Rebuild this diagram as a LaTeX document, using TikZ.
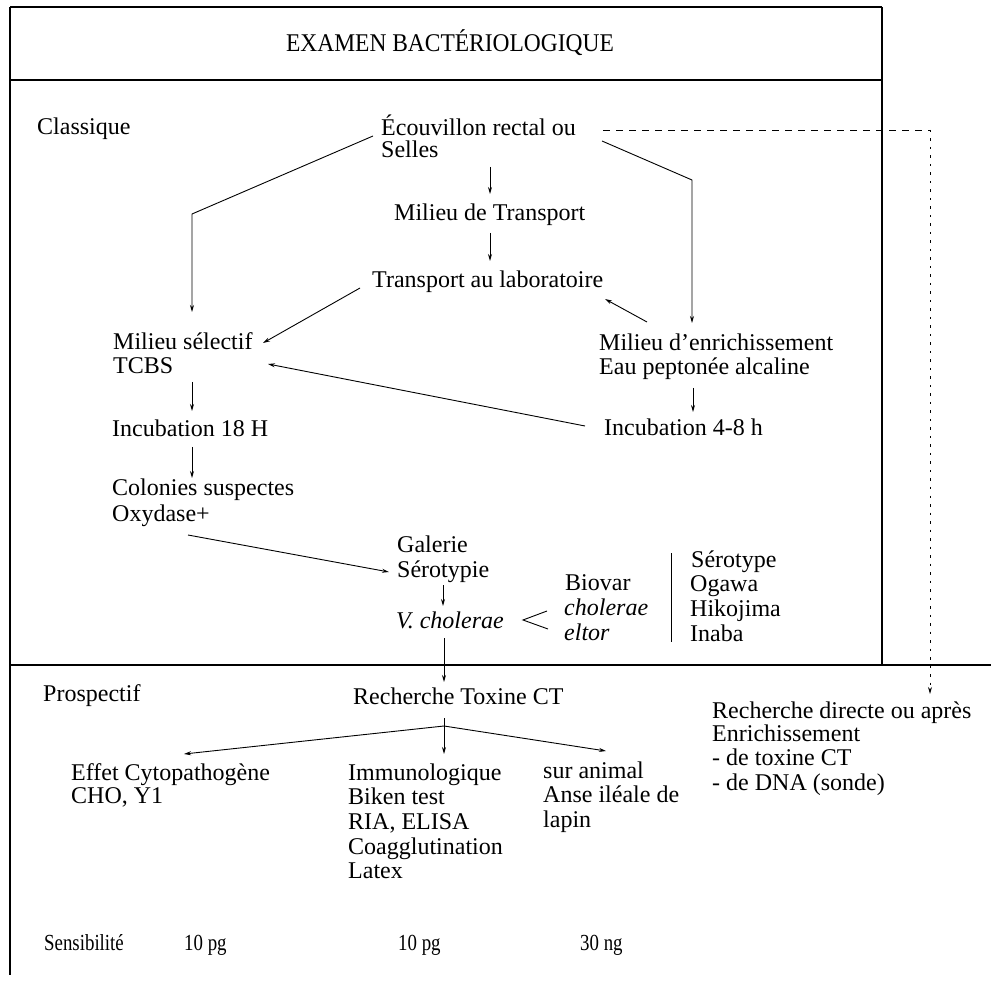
\documentclass[tikz,border=0pt]{standalone}
\usepackage{fontspec}
\setmainfont{Liberation Serif}
\newfontfamily\titlefont[FakeStretch=0.92]{Liberation Serif}
\newfontfamily\condfont[FakeStretch=0.82]{Liberation Serif}
\usetikzlibrary{arrows.meta}
\begin{document}
\begin{tikzpicture}[x=1pt,y=-1pt,
  txt/.style={anchor=base west, inner sep=0pt, font=\fontsize{24}{26}\selectfont},
  small/.style={anchor=base west, inner sep=0pt, font=\condfont\fontsize{23}{25}\selectfont},
  ttl/.style={anchor=base, inner sep=0pt, font=\titlefont\fontsize{25.5}{27}\selectfont},
  frame/.style={line width=1.5pt},
  conn/.style={line width=0.9pt},
  arr/.style={conn,-{Stealth[length=7pt,width=4pt]}},
  dashline/.style={conn, dash pattern=on 7pt off 6pt},
  dotline/.style={conn, dash pattern=on 2.5pt off 6pt}]
\useasboundingbox (0,0) rectangle (991,981);

% frames
\draw[frame] (10,7) -- (882,7);
\draw[frame] (10,80) -- (882,80);
\draw[frame] (10,665) -- (991,665);
\draw[frame] (10,7) -- (10,975);
\draw[frame] (882,7) -- (882,665);

% title
\node[ttl] (title) at (450,52) {EXAMEN BACTÉRIOLOGIQUE};

% Classique section
\node[txt] (classique) at (37,135) {Classique};
\node[txt] (ecouv) at (381,136) {Écouvillon rectal ou};
\node[txt] (selles) at (381,158) {Selles};
\node[txt] (mtrans) at (394,221) {Milieu de Transport};
\node[txt] (translab) at (372,288) {Transport au laboratoire};
\node[txt] (msel) at (113,350) {Milieu sélectif};
\node[txt] (tcbs) at (113,374) {TCBS};
\node[txt] (menr) at (599,351) {Milieu d’enrichissement};
\node[txt] (eau) at (599,375) {Eau peptonée alcaline};
\node[txt] (inc18) at (112,437) {Incubation 18 H};
\node[txt] (inc48) at (604,436) {Incubation 4-8 h};
\node[txt] (colon) at (112,496) {Colonies suspectes};
\node[txt] (oxy) at (112,521) {Oxydase+};
\node[txt] (galerie) at (397,552) {Galerie};
\node[txt] (serotypie) at (397,577) {Sérotypie};
\node[txt] (vchol) at (396,628) {\itshape V. cholerae};
\node[txt] (biovar) at (565,590) {Biovar};
\node[txt] (bchol) at (564,615) {\itshape cholerae};
\node[txt] (beltor) at (564,640) {\itshape eltor};
\node[txt] (serotype) at (691,567) {Sérotype};
\node[txt] (ogawa) at (690,591) {Ogawa};
\node[txt] (hiko) at (690,616) {Hikojima};
\node[txt] (inaba) at (690,641) {Inaba};

% Prospectif section
\node[txt] (prosp) at (43,701) {Prospectif};
\node[txt] (rtox) at (353,704) {Recherche Toxine CT};
\node[txt] (rdir) at (712,718) {Recherche directe ou après};
\node[txt] (enrich) at (712,741) {Enrichissement};
\node[txt] (dtox) at (712,765) {- de toxine CT};
\node[txt] (ddna) at (712,790) {- de DNA (sonde)};
\node[txt] (effet) at (71,780) {Effet Cytopathogène};
\node[txt] (cho) at (71,803) {CHO, Y1};
\node[txt] (immuno) at (348,780) {Immunologique};
\node[txt] (biken) at (348,804) {Biken test};
\node[txt] (ria) at (348,829) {RIA, ELISA};
\node[txt] (coag) at (348,854) {Coagglutination};
\node[txt] (latex) at (348,878) {Latex};
\node[txt] (animal) at (543,778) {sur animal};
\node[txt] (anse) at (543,802) {Anse iléale de};
\node[txt] (lapin) at (543,827) {lapin};
\node[small] (sensi) at (44,950) {Sensibilité};
\node[small] (s1) at (184,950) {10 pg};
\node[small] (s2) at (398,950) {10 pg};
\node[small] (s3) at (580,950) {30 ng};

% connector coordinates
\coordinate (a1) at (490,167); \coordinate (a2) at (490,194);
\coordinate (b1) at (490,233); \coordinate (b2) at (490,261);
\coordinate (l0) at (373,136); \coordinate (l1) at (192,214); \coordinate (l2) at (192,312);
\coordinate (r0) at (602,141); \coordinate (r1) at (692,180); \coordinate (r2) at (692,323);
\coordinate (t0) at (360,288); \coordinate (t1) at (263,343);
\coordinate (e0) at (647,322); \coordinate (e1) at (605,299);
\coordinate (i0) at (585,426); \coordinate (i1) at (268,364);
\coordinate (p0) at (693,388); \coordinate (p1) at (693,412);
\coordinate (c0) at (192,382); \coordinate (c1) at (192,411);
\coordinate (d0) at (192,447); \coordinate (d1) at (192,478);
\coordinate (o0) at (188,535); \coordinate (o1) at (389,572);
\coordinate (s0) at (443,585); \coordinate (s1c) at (443,606);
\coordinate (v0) at (444,638); \coordinate (v1) at (444,682);
\coordinate (f0) at (444,726); \coordinate (fl) at (184,754); \coordinate (fr) at (606,751);
\coordinate (m0) at (444,718); \coordinate (m1) at (444,754);
\coordinate (lt0) at (547,611); \coordinate (lt1) at (523,620); \coordinate (lt2) at (548,629);
\coordinate (bar0) at (671,553); \coordinate (bar1) at (671,642);
\coordinate (q0) at (603,130); \coordinate (q1) at (930,130); \coordinate (q2) at (930,694);

% connectors
\draw[arr] (a1) -- (a2);
\draw[arr] (b1) -- (b2);
\draw[arr] (l0) -- (l1) -- (l2);
\draw[arr] (r0) -- (r1) -- (r2);
\draw[arr] (t0) -- (t1);
\draw[arr] (e0) -- (e1);
\draw[arr] (i0) -- (i1);
\draw[arr] (p0) -- (p1);
\draw[arr] (c0) -- (c1);
\draw[arr] (d0) -- (d1);
\draw[arr] (o0) -- (o1);
\draw[arr] (s0) -- (s1c);
\draw[arr] (v0) -- (v1);
\draw[arr] (f0) -- (fl);
\draw[arr] (f0) -- (fr);
\draw[arr] (m0) -- (m1);
\draw[conn] (lt0) -- (lt1) -- (lt2);
\draw[conn] (bar0) -- (bar1);
\draw[dashline] (q0) -- (q1);
\draw[dotline,-{Stealth[length=7pt,width=4pt]}] (q1) -- (q2);
\end{tikzpicture}
\end{document}
